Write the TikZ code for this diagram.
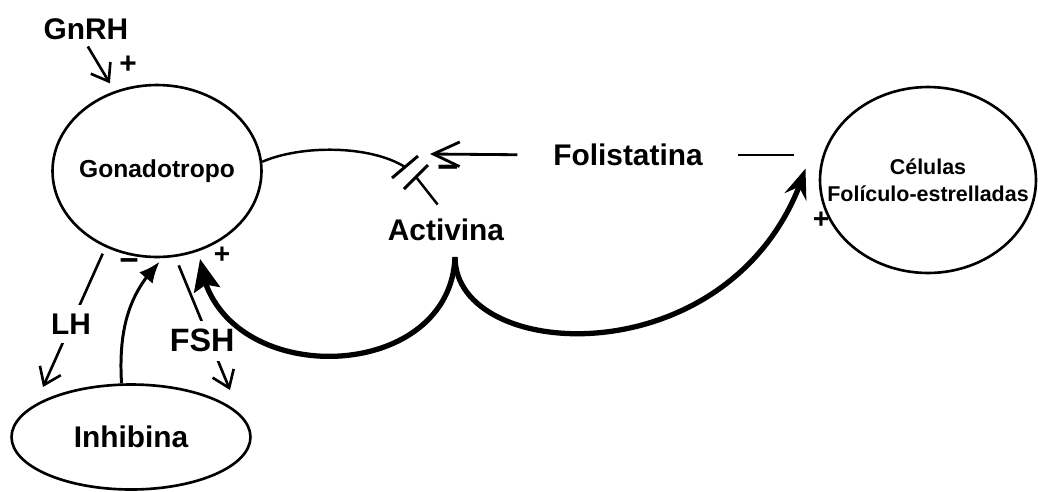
\documentclass[tikz,border=0pt]{standalone}
\usepackage{fontspec}
\setmainfont{Liberation Sans}
\usetikzlibrary{shapes.geometric,arrows.meta,bending}

\tikzstyle{celula} = [draw, ellipse, line width=1.5pt, inner xsep=-0.6cm, inner ysep=0pt]
\tikzstyle{texto} = [inner sep=2pt, font=\bfseries\fontsize{17}{20}\selectfont]
\tikzstyle{signo} = [inner sep=0pt, font=\bfseries\fontsize{17}{20}\selectfont]
\tikzstyle{fino} = [line width=1.4pt]
\tikzstyle{grueso} = [line width=3pt]
\tikzstyle{flecha} = [fino, line width=1.5pt, -{Straight Barb[length=9pt,width=13pt]}]

\begin{document}
\begin{tikzpicture}[x=0.02cm, y=-0.02cm]
  \useasboundingbox (0,0) rectangle (1038,491);

  \node (gonado) at (157,171) [celula, minimum width=4.18cm, minimum height=3.44cm,
    font=\bfseries\fontsize{14}{16}\selectfont] {Gonadotropo};
  \node (inhib) at (131,437) [celula, minimum width=4.78cm, minimum height=2.1cm,
    font=\bfseries\fontsize{17}{20}\selectfont] {Inhibina};
  \node (celulas) at (928,180) [celula, minimum width=4.32cm, minimum height=3.72cm,
    align=center, font=\bfseries\fontsize{12.2}{15.3}\selectfont] {Células\\Folículo-estrelladas};
  \node (gnrh) at (86,29) [texto] {GnRH};
  \node (activina) at (446,230) [texto] {Activina};
  \node (folist) at (628,155) [texto] {Folistatina};

  \node (masG) at (128,65) [signo] {+};
  \node (menosF) at (448,172) [signo, font=\bfseries\fontsize{21}{24}\selectfont] {−};
  \node (menosI) at (129,265) [signo, font=\bfseries\fontsize{19}{22}\selectfont] {−};
  \node (masA) at (222,255) [signo, font=\bfseries\fontsize{16}{19}\selectfont] {+};
  \node (masC) at (821,220) [signo, font=\bfseries\fontsize{16}{19}\selectfont] {+};

  \coordinate (finLH) at (43,387);
  \coordinate (finFSH) at (230,390);
  \coordinate (cuspide) at (455,257);
  \coordinate (bloqueo1) at (405,167);
  \coordinate (bloqueo2) at (416,177);
  \coordinate (puntaF) at (430,154);

  % estimulo de GnRH
  \draw [flecha, shorten <=2pt, shorten >=0.18cm] (gnrh.south) -- (gonado.118);

  % LH y FSH
  \draw [flecha, shorten <=0.14cm] (gonado.-124) -- node [pos=0.55, texto, fill=white, inner sep=5pt] {LH} (finLH);
  \draw [flecha, shorten <=0.18cm] (gonado.-78) -- node [pos=0.63, xshift=-0.15cm, texto, fill=white, inner sep=5pt,
    font=\bfseries\fontsize{18.4}{21}\selectfont] {FSH} (finFSH);

  % Inhibina
  \draw [fino, line width=1.7pt, -{Latex[length=12pt,width=10pt]}, shorten >=0.1cm]
    (inhib.100) .. controls +(-4,-65) and +(-28,28) .. (gonado.-86);

  % Activina
  \draw [grueso, -{Stealth[length=18pt,width=15pt,inset=3pt]}, shorten >=0.16cm]
    (cuspide) .. controls +(-5,133) and +(5,140) .. (gonado.-62);
  \draw [grueso, -{Stealth[length=17pt,width=13pt,inset=6pt]}]
    (cuspide) .. controls +(0,108) and +(-66,210) .. ([xshift=-0.28cm]celulas.174);

  % Gonadotropo -- Activina, cortada
  \draw [fino] (gonado.5) .. controls +(39,-17) and +(-35,-22) .. (bloqueo1);
  \draw [fino, line width=1.7pt] ([shift={(-13,11)}]bloqueo1) -- ([shift={(13,-11)}]bloqueo1);
  \draw [fino, line width=1.7pt] ([shift={(-12,12)}]bloqueo2) -- ([shift={(12,-12)}]bloqueo2);
  \draw [fino, shorten >=0.27cm] (bloqueo2) -- (activina.north);

  % Folistatina
  \draw [fino, line width=1.6pt, -{Straight Barb[length=15pt,width=14pt]}, shorten <=0.64cm] (folist.west) -- (puntaF);
  \draw [fino, shorten <=0.62cm, shorten >=0.5cm] (folist.east) -- (folist.east -| celulas.west);
\end{tikzpicture}
\end{document}
